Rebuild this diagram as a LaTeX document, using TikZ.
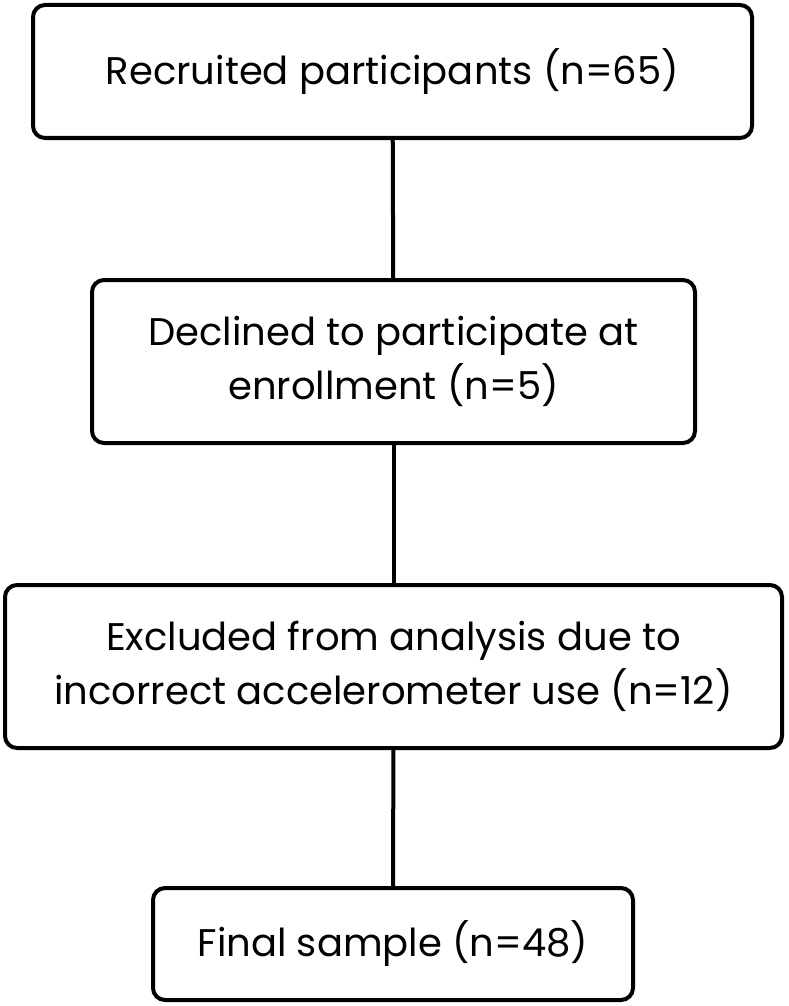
\documentclass[tikz,border=0pt]{standalone}
\usepackage{fontspec}
\setmainfont{Poppins}
\begin{document}
\begin{tikzpicture}[x=1pt,y=-1pt,
  boxs/.style={draw,line width=4pt,rounded corners=12pt,align=center,inner sep=0pt,font=\fontsize{38.5}{54}\selectfont},
  conn/.style={line width=4pt}]
\useasboundingbox (0,0) rectangle (788,1006);
\node[boxs,minimum width=719pt,minimum height=133pt] (a) at (392.5,71.5) {Recruited participants (n=65)};
\node[boxs,minimum width=603pt,minimum height=163pt] (b) at (393.5,361.5) {Declined to participate at\\enrollment (n=5)};
\node[boxs,minimum width=777pt,minimum height=163pt] (c) at (393.5,666.5) {Excluded from analysis due to\\incorrect accelerometer use (n=12)};
\node[boxs,minimum width=480pt,minimum height=112pt] (d) at (393,944) {Final sample (n=48)};
\draw[conn] (a) -- (b);
\draw[conn] (b) -- (c);
\draw[conn] (c) -- (d);
\end{tikzpicture}
\end{document}
